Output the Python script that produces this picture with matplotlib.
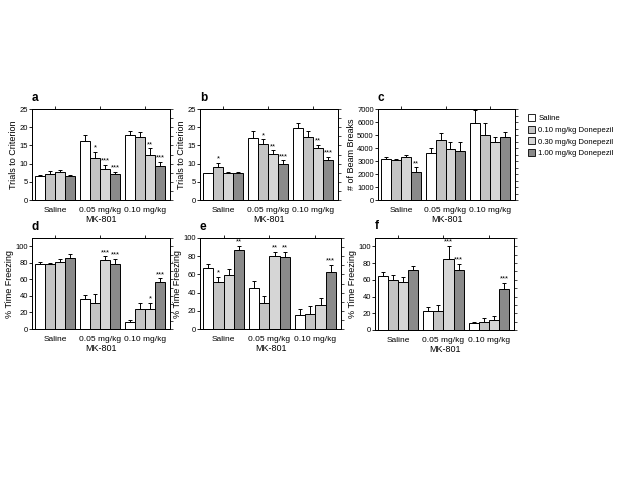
import matplotlib
matplotlib.use("Agg")
import numpy as np
import matplotlib.pyplot as plt
from matplotlib.ticker import NullFormatter, FixedLocator

plt.rcParams['font.family'] = ['Liberation Sans', 'DejaVu Sans']

# groups on x axis and treatment series
groups = ["Saline", "0.05 mg/kg", "0.10 mg/kg"]
series = ["Saline", "0.10 mg/kg Donepezil", "0.30 mg/kg Donepezil", "1.00 mg/kg Donepezil"]
colors = ["#ffffff", "#c4c4c4", "#d6d6d6", "#8a8a8a"]

# panel values: rows = MK-801 group, cols = donepezil series
a_mean = [[6.6, 7.2, 7.6, 6.6], [16.3, 11.5, 8.4, 7.1], [17.9, 17.3, 12.4, 9.3]]
a_err = [[0.2, 0.9, 0.7, 0.2], [1.6, 1.7, 1.2, 0.7], [1.0, 1.3, 1.8, 1.2]]
a_sig = [["", "", "", ""], ["", "*", "***", "***"], ["", "", "**", "***"]]

b_mean = [[7.4, 9.2, 7.5, 7.5], [17.1, 15.5, 12.6, 9.9], [19.7, 17.2, 14.2, 10.9]]
b_err = [[0.1, 1.1, 0.1, 0.1], [1.8, 1.2, 1.0, 1.0], [1.5, 1.8, 1.0, 1.0]]
b_sig = [["", "*", "", ""], ["", "*", "**", "***"], ["", "", "**", "***"]]

c_mean = [[3190, 3060, 3320, 2120], [3580, 4610, 3960, 3760], [5960, 4970, 4430, 4870]]
c_err = [[150, 100, 180, 400], [390, 570, 470, 670], [930, 930, 410, 390]]
c_sig = [["", "", "", "**"], ["", "", "", ""], ["", "", "", ""]]

d_mean = [[78, 78, 81, 86.4], [36, 32, 84, 79], [8.8, 23.6, 24.4, 57.2]]
d_err = [[3, 2, 4, 4], [5, 10, 4, 6], [2.4, 7.6, 7.6, 4]]
d_sig = [["", "", "", ""], ["", "", "***", "***"], ["", "", "*", "***"]]

e_mean = [[67, 51.6, 59.7, 86.8], [45, 28.6, 79.9, 79], [15.8, 16.8, 26, 62.6]]
e_err = [[4.4, 5.5, 6, 4.4], [7.3, 8, 4.8, 6], [6.2, 8, 8, 7.7]]
e_sig = [["", "*", "", "**"], ["", "", "**", "**"], ["", "", "", "***"]]

f_mean = [[65, 60, 57, 72], [23, 23, 85, 72], [8, 10, 12, 49]]
f_err = [[4.8, 6, 6, 5], [5, 7, 16, 7], [2, 4, 5, 7]]
f_sig = [["", "", "", ""], ["", "", "***", "***"], ["", "", "", "***"]]


def draw_panel(ax, mean, err, sig, ylim, step, minor, ylabel, letter):
    mean = np.array(mean)
    err = np.array(err)
    for g in range(3):
        for s in range(4):
            x = g * 4.5 + 0.8 + s
            ax.bar(x, mean[g, s], width=1.0, color=colors[s], edgecolor="black",
                   linewidth=0.7, zorder=2)
            ax.errorbar(x, mean[g, s], yerr=[[0], [err[g, s]]], fmt="none",
                        ecolor="black", elinewidth=0.7, capsize=1.5, capthick=0.7, zorder=3)
            if sig[g][s]:
                ax.text(x, mean[g, s] + err[g, s] + ylim * 0.003, sig[g][s],
                        ha="center", va="bottom", fontsize=5.5)
    ax.set_xlim(0, 13.8)
    ax.set_ylim(0, ylim)
    ax.set_xticks([2.3, 6.8, 11.3])
    ax.set_xticklabels(groups, fontsize=6)
    ax.set_yticks(np.arange(0, ylim + 0.001, step))
    ax.tick_params(axis="y", labelsize=5.5, length=2, width=0.6, pad=1)
    ax.tick_params(axis="x", bottom=False, top=True, labeltop=False, length=2,
                   width=0.6, pad=3, direction="out")
    ax.set_ylabel(ylabel, fontsize=6.5, labelpad=1)
    ax.set_xlabel("MK-801", fontsize=6.5, labelpad=1)
    # minor ticks on the right spine
    sec = ax.twinx()
    sec.set_ylim(0, ylim)
    sec.yaxis.set_major_locator(FixedLocator(np.arange(0, ylim + 0.001, minor)))
    sec.yaxis.set_major_formatter(NullFormatter())
    sec.tick_params(axis="y", length=2, width=0.5)
    for sp in list(ax.spines.values()) + list(sec.spines.values()):
        sp.set_linewidth(0.7)
    ax.text(0.0, 1.06, letter, transform=ax.transAxes, fontsize=8.5, fontweight="bold",
            ha="left", va="bottom")


fig = plt.figure(figsize=(6.4, 4.8), dpi=100)
W, H = 640, 480


def add_axes(left, right, top, bottom):
    return fig.add_axes([left / W, 1 - bottom / H, (right - left) / W, (bottom - top) / H])


ax_a = add_axes(32, 170, 109, 200)
ax_b = add_axes(200, 338, 109, 200)
ax_c = add_axes(378, 515, 109, 200)
ax_d = add_axes(32, 170, 238, 329)
ax_e = add_axes(200, 341, 238, 329)
ax_f = add_axes(375, 514, 238, 330)

draw_panel(ax_a, a_mean, a_err, a_sig, 25, 5, 2.5, "Trials to Criterion", "a")
draw_panel(ax_b, b_mean, b_err, b_sig, 25, 5, 2.5, "Trials to Criterion", "b")
draw_panel(ax_c, c_mean, c_err, c_sig, 7000, 1000, 500, "# of Beam Breaks", "c")
draw_panel(ax_d, d_mean, d_err, d_sig, 110, 20, 10, "% Time Freezing", "d")
draw_panel(ax_e, e_mean, e_err, e_sig, 100, 20, 10, "% Time Freezing", "e")
draw_panel(ax_f, f_mean, f_err, f_sig, 110, 20, 10, "% Time Freezing", "f")

handles = [plt.Rectangle((0, 0), 1, 1, facecolor=c, edgecolor="black", linewidth=0.6)
           for c in colors]
fig.legend(handles, series, loc="upper left", bbox_to_anchor=(525 / W, 1 - 111 / H),
           frameon=False, fontsize=5.6, handlelength=0.9, handleheight=1.0,
           handletextpad=0.4, labelspacing=0.45, borderaxespad=0)

fig.savefig("out.png", dpi=100)
